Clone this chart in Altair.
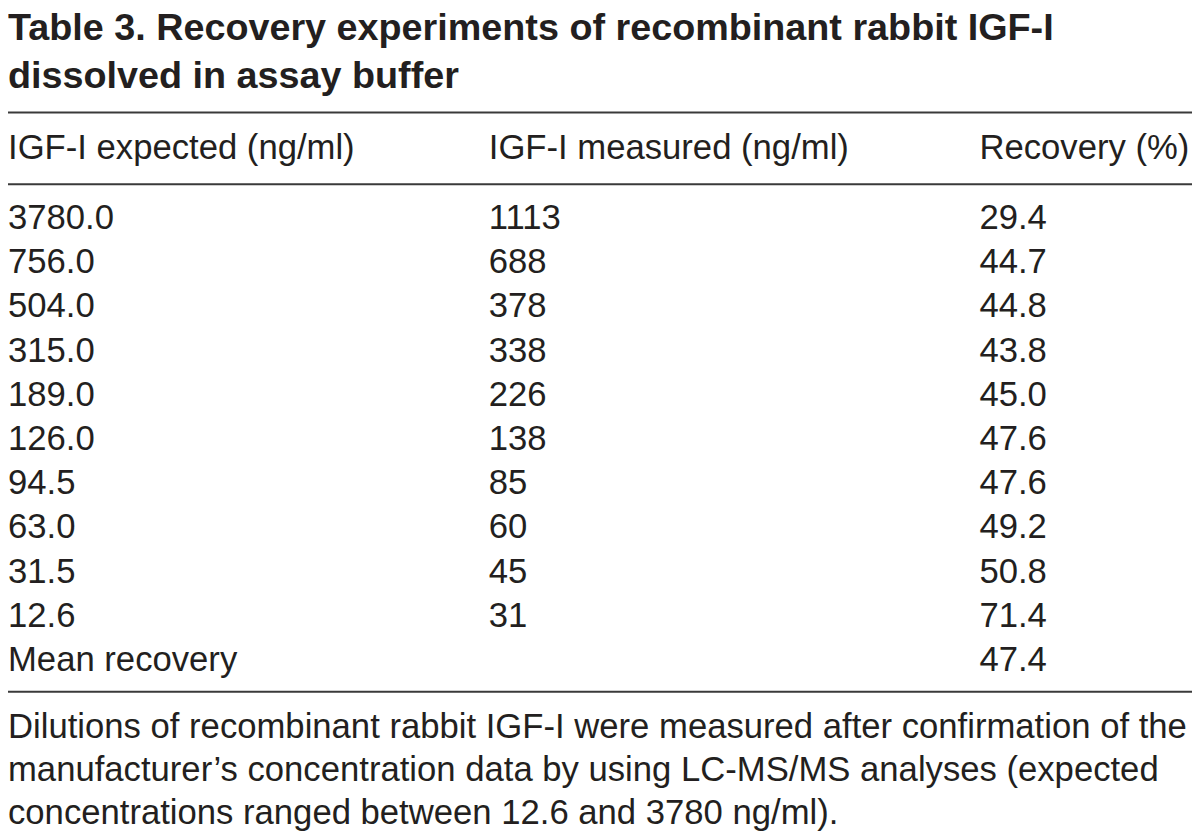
import altair as alt
import pandas as pd

headers = ["IGF-I expected (ng/ml)", "IGF-I measured (ng/ml)", "Recovery (%)"]
expected = ["3780.0", "756.0", "504.0", "315.0", "189.0", "126.0", "94.5", "63.0",
            "31.5", "12.6", "Mean recovery"]
measured = ["1113", "688", "378", "338", "226", "138", "85", "60", "45", "31", ""]
recovery = ["29.4", "44.7", "44.8", "43.8", "45.0", "47.6", "47.6", "49.2", "50.8",
            "71.4", "47.4"]
title_lines = ["Table 3. Recovery experiments of recombinant rabbit IGF-I",
               "dissolved in assay buffer"]
footnote_lines = [
    "Dilutions of recombinant rabbit IGF-I were measured after confirmation of the",
    "manufacturer\u2019s concentration data by using LC-MS/MS analyses (expected",
    "concentrations ranged between 12.6 and 3780 ng/ml).",
]

# ---- layout helpers ----
SY = 0.99
def Y(v):
    return round(v * SY, 1)

FONT = "Liberation Sans"
INK = "#231f20"
RULE = "#3a3a3a"
W, H = 1192, 829
BODY = 34.9
TITLE = 38

rows = []
for c, h in enumerate(headers):
    rows.append({"row": -1, "col": c, "txt": h})
for r in range(len(expected)):
    for c, col in enumerate([expected, measured, recovery]):
        if col[r] != "":
            rows.append({"row": r, "col": c, "txt": col[r]})
cells = pd.DataFrame(rows)

xscale = alt.Scale(domain=[0, 1, 2], range=[0, 484, 978])
yscale = alt.Scale(domain=[-1, 0, 10], range=[Y(151), Y(221.8), Y(671.3)])

table = alt.Chart(cells).mark_text(
    align="left", baseline="alphabetic", font=FONT, fontSize=BODY, color=INK
).encode(
    x=alt.X("col:Q", scale=xscale, axis=None),
    y=alt.Y("row:Q", scale=yscale, axis=None),
    text="txt:N",
)

layers = [table]

# title lines
for txt, yb in zip(title_lines, [29.6, 78.5]):
    layers.append(
        alt.Chart(pd.DataFrame({"t": [txt]})).mark_text(
            align="left", baseline="alphabetic", font=FONT, fontSize=TITLE,
            fontWeight="bold", color=INK
        ).encode(x=alt.value(0), y=alt.value(Y(yb)), text="t:N")
    )

# footnote lines
for txt, yb in zip(footnote_lines, [740.0, 783.5, 826.7]):
    layers.append(
        alt.Chart(pd.DataFrame({"t": [txt]})).mark_text(
            align="left", baseline="alphabetic", font=FONT, fontSize=BODY, color=INK
        ).encode(x=alt.value(0), y=alt.value(Y(yb)), text="t:N")
    )

# horizontal rules
for yr in [103.5, 176.5, 692.5]:
    layers.append(
        alt.Chart(pd.DataFrame({"a": [0]})).mark_rule(
            color=RULE, strokeWidth=2
        ).encode(x=alt.value(0), x2=alt.value(W), y=alt.value(Y(yr)))
    )

chart = alt.layer(*layers).properties(
    width=W, height=H,
    autosize=alt.AutoSizeParams(type="none"),
    padding=0,
    background="white",
).configure_view(stroke=None)

chart.save("out.html", embed_options={"renderer": "svg", "actions": False})
